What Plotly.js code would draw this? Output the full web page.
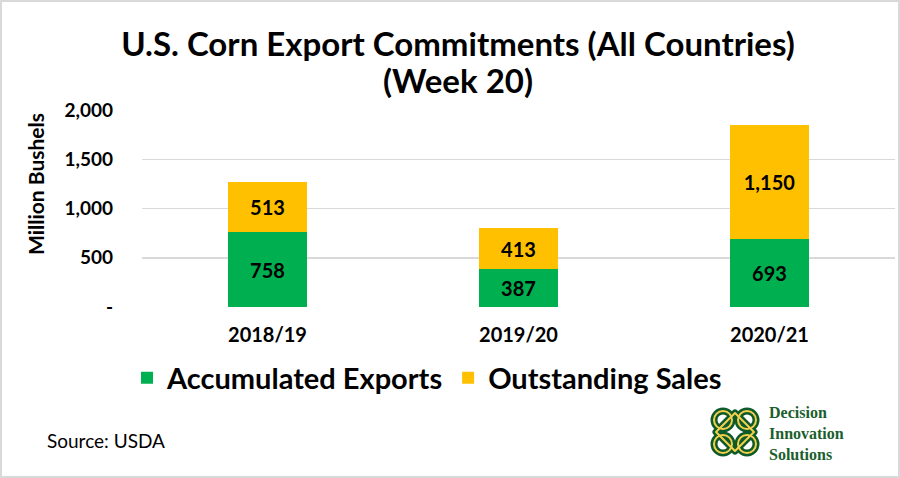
<!DOCTYPE html>
<html>
<head>
<meta charset="utf-8">
<script src="https://cdn.plot.ly/plotly-3.0.1.min.js"></script>
<style>
  html, body { margin: 0; padding: 0; background: #ffffff; }
  #chart { width: 900px; height: 478px; }
</style>
</head>
<body>
<div id="chart"></div>
<script>
// ---- data ----
const seasons = ["2018/19", "2019/20", "2020/21"];
const accumulatedExports = [758, 387, 693];
const outstandingSales = [513, 413, 1150];
const yTickValues = [0, 500, 1000, 1500, 2000];
const yTickLabels = ["-", "500", "1,000", "1,500", "2,000"];

// ---- geometry helpers (plot area in pixels) ----
const W = 900, H = 478;
const L = 142, R = 895, T = 110, B = 307;
const px = x => (x - L) / (R - L);
const py = y => (B - y) / (B - T);

const GREEN = "#00B050";
const YELLOW = "#FFC000";
const FONT = "Lato";

const labelFont = { family: FONT, size: 20, color: "#000000", weight: 700 };

const traces = [
  {
    type: "bar", name: "Accumulated Exports",
    x: seasons, y: accumulatedExports,
    marker: { color: GREEN },
    texttemplate: "%{y:,}", textposition: "inside", insidetextanchor: "middle",
    textangle: 0, constraintext: "none",
    insidetextfont: labelFont, textfont: labelFont,
    hoverinfo: "skip"
  },
  {
    type: "bar", name: "Outstanding Sales",
    x: seasons, y: outstandingSales,
    marker: { color: YELLOW },
    texttemplate: "%{y:,}", textposition: "inside", insidetextanchor: "middle",
    textangle: 0, constraintext: "none",
    insidetextfont: labelFont, textfont: labelFont,
    hoverinfo: "skip"
  }
];

const logoSvg =
  '<svg xmlns="http://www.w3.org/2000/svg" viewBox="0 0 54 52" width="54" height="52">' +
  '<g fill="none" stroke-linecap="round" stroke-linejoin="round">' +
  '<g stroke="#0e5a2b" stroke-width="7">' +
  '<circle cx="15" cy="14" r="9"/><circle cx="39" cy="14" r="9"/>' +
  '<circle cx="15" cy="38" r="9"/><circle cx="39" cy="38" r="9"/>' +
  '<path d="M27 7 L46 26 L27 45 L8 26 Z"/>' +
  '</g>' +
  '<g stroke="#f4d04a" stroke-width="2">' +
  '<circle cx="15" cy="14" r="9"/><circle cx="39" cy="14" r="9"/>' +
  '<circle cx="15" cy="38" r="9"/><circle cx="39" cy="38" r="9"/>' +
  '<path d="M27 7 L46 26 L27 45 L8 26 Z"/>' +
  '</g></g></svg>';

const titleFont = { family: FONT, size: 33, weight: 700, color: "#000000" };

const layout = {
  width: W, height: H,
  margin: { l: L, r: W - R, t: T, b: H - B, pad: 0 },
  paper_bgcolor: "#ffffff", plot_bgcolor: "#ffffff",
  barmode: "stack",
  bargap: 0.685,
  showlegend: true,
  font: { family: FONT, color: "#000000" },
  title: {
    text: "U.S. Corn Export Commitments (All Countries)",
    font: titleFont,
    x: 458 / W, xref: "container", xanchor: "center",
    y: 1 - 44 / H, yref: "container", yanchor: "middle"
  },
  xaxis: {
    type: "category",
    showgrid: false, zeroline: false, showline: false, ticks: "",
    tickfont: { family: FONT, size: 20, weight: 700, color: "#000000" },
    ticklabelstandoff: 14
  },
  yaxis: {
    range: [0, 2000],
    tickvals: yTickValues, ticktext: yTickLabels,
    showgrid: true, gridcolor: "#D9D9D9", gridwidth: 1.5,
    zeroline: false, showline: false, ticks: "",
    tickfont: { family: FONT, size: 19, weight: 700, color: "#000000" },
    ticklabelstandoff: 28
  },
  legend: {
    orientation: "h",
    x: px(427), xanchor: "center",
    y: py(378), yanchor: "middle",
    font: { family: FONT, size: 29, weight: 700, color: "#000000" },
    traceorder: "normal",
    bgcolor: "rgba(0,0,0,0)"
  },
  annotations: [
    {
      text: "(Week 20)",
      xref: "paper", yref: "paper", x: px(458), y: py(80),
      xanchor: "center", yanchor: "middle", showarrow: false,
      font: titleFont
    },
    {
      text: "Million Bushels", textangle: -90,
      xref: "paper", yref: "paper", x: px(35), y: py(184),
      xanchor: "center", yanchor: "middle", showarrow: false,
      font: { family: FONT, size: 21, weight: 700, color: "#000000" }
    },
    {
      text: "Source: USDA",
      xref: "paper", yref: "paper", x: px(45), y: py(440),
      xanchor: "left", yanchor: "middle", showarrow: false,
      font: { family: FONT, size: 19, color: "#000000" }
    },
    {
      text: "Decision<br>Innovation<br>Solutions", align: "left",
      xref: "paper", yref: "paper", x: px(767), y: py(433),
      xanchor: "left", yanchor: "middle", showarrow: false,
      font: { family: "Liberation Serif", size: 16, weight: 700, color: "#1b5e2d" }
    }
  ],
  images: [
    {
      source: "data:image/svg+xml;utf8," + encodeURIComponent(logoSvg),
      xref: "paper", yref: "paper",
      x: px(708), y: py(406), sizex: 54 / (R - L), sizey: 52 / (B - T),
      xanchor: "left", yanchor: "top", sizing: "stretch", layer: "above"
    }
  ],
  shapes: [
    {
      type: "rect", xref: "paper", yref: "paper",
      x0: px(1), x1: px(899), y0: py(477), y1: py(1),
      line: { color: "#D9D9D9", width: 2 }, fillcolor: "rgba(0,0,0,0)", layer: "above"
    }
  ]
};

Plotly.newPlot("chart", traces, layout, { displayModeBar: false, staticPlot: true });
</script>
</body>
</html>
